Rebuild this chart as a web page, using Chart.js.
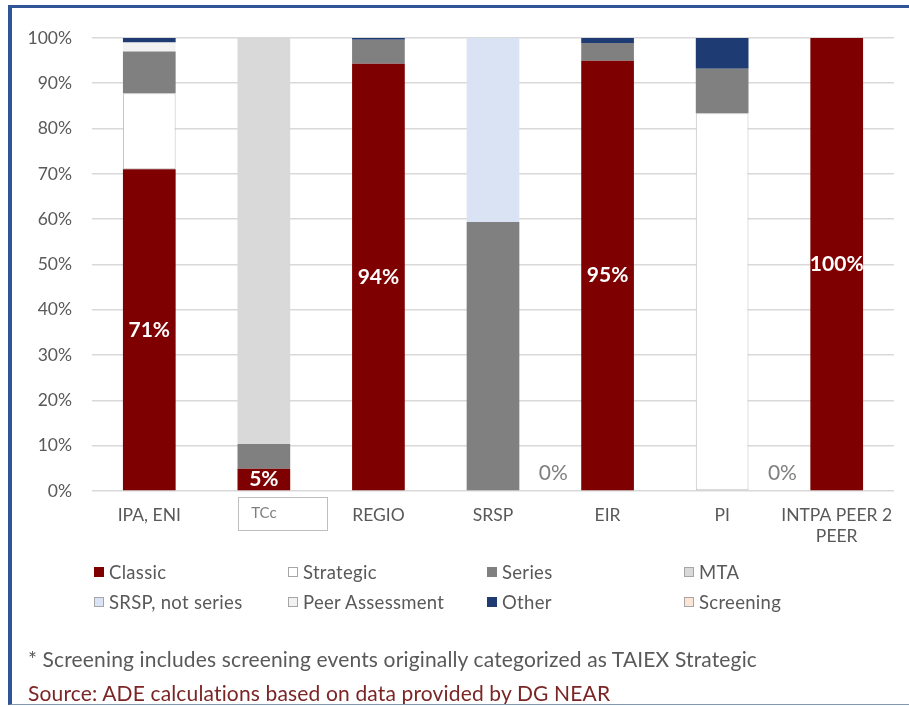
<!DOCTYPE html>
<html><head><meta charset="utf-8">
<script src="https://cdn.jsdelivr.net/npm/chart.js@4"></script>
<style>
html,body{margin:0;padding:0;background:#fff;}
#wrap{position:relative;width:909px;height:707px;overflow:hidden;font-family:Lato,'Noto Sans',sans-serif;background:#fff;}
#frame{position:absolute;left:8px;top:5px;width:940px;height:700px;border-left:4px solid #2f5597;border-top:3px solid #2f5597;border-bottom:1px solid #8497b0;box-sizing:border-box;pointer-events:none;z-index:3;}
#c{position:absolute;left:0;top:0;}
.lg{position:absolute;display:flex;align-items:center;font-size:18.5px;letter-spacing:0.3px;color:#595959;white-space:nowrap;transform:translateY(-50%);}
.lg i{display:inline-block;width:10px;height:10px;margin-right:5px;box-sizing:border-box;}
.note{position:absolute;left:28px;font-size:21px;letter-spacing:0.15px;white-space:nowrap;transform:translateY(-50%);}
</style>
</head><body>
<div id="wrap">
<canvas id="c" width="909" height="707"></canvas>
<div id="legend"></div>
<div class="note" style="top:658px;color:#595959;">* Screening includes screening events originally categorized as TAIEX Strategic</div>
<div class="note" style="top:692px;color:#7b2525;">Source: ADE calculations based on data provided by DG NEAR</div>
<div id="frame"></div>
</div>
<script>
// ---- data ----
const categories = ['IPA, ENI', 'TCc', 'REGIO', 'SRSP', 'EIR', 'PI', ['INTPA PEER 2', 'PEER']];
const yTickValues = [0, 10, 20, 30, 40, 50, 60, 70, 80, 90, 100];
const classic        = [71.0, 4.9, 94.3, 0,    95.0, 0,    100];
const strategic      = [16.8, 0,   0,    0,    0,    83.4, 0];
const series         = [9.2,  5.5, 5.3,  59.4, 3.9,  9.8,  0];
const mta            = [0,    89.6,0,    0,    0,    0,    0];
const srspNotSeries  = [0,    0,   0,    40.6, 0,    0,    0];
const peerAssessment = [2.0,  0,   0,    0,    0,    0,    0];
const other          = [1.0,  0,   0.4,  0,    1.1,  6.8,  0];
const screening      = [0,    0,   0,    0,    0,    0,    0];

const GREY_TXT = '#595959';
const FONT = 'Lato, "Noto Sans", sans-serif';

function ds(label, data, bg, border, bw) {
  return { label, data, backgroundColor: bg, borderColor: border || bg, borderWidth: bw || 0,
           borderSkipped: false, barPercentage: 1, categoryPercentage: 0.46 };
}
const datasets = [
  ds('Classic', classic, '#7f0000'),
  ds('Strategic', strategic, '#ffffff', '#bfbfbf', 1),
  ds('Series', series, '#808080'),
  ds('MTA', mta, '#d9d9d9'),
  ds('SRSP, not series', srspNotSeries, '#dae3f3'),
  ds('Peer Assessment', peerAssessment, '#f2f2f2'),
  ds('Other', other, '#1f3b73'),
  ds('Screening', screening, '#fbe5d6')
];

const labelPlugin = {
  id: 'labels',
  afterDatasetsDraw(chart) {
    const ctx = chart.ctx;
    const meta = chart.getDatasetMeta(0);
    const xs = chart.scales.x, ys = chart.scales.y;
    const step = xs.getPixelForValue(1) - xs.getPixelForValue(0);
    ctx.save();
    ctx.textAlign = 'center';
    ctx.textBaseline = 'middle';
    classic.forEach((v, i) => {
      const el = meta.data[i];
      if (v > 0) {
        ctx.font = 'bold 21px ' + FONT;
        ctx.fillStyle = '#ffffff';
        ctx.fillText(Math.round(v) + '%', el.x, (el.y + el.base) / 2);
      } else {
        ctx.font = '21px ' + FONT;
        ctx.fillStyle = '#7f7f7f';
        ctx.fillText(Math.round(v) + '%', el.x + step / 2 + 3, ys.getPixelForValue(0) - 18);
      }
    });
    // box around TCc tick label
    const tx = xs.getPixelForValue(1);
    ctx.strokeStyle = '#bfbfbf';
    ctx.lineWidth = 1;
    ctx.strokeRect(Math.round(tx - 26) + 0.5, 497.5, 89, 33);
    ctx.restore();
  }
};

const chart = new Chart(document.getElementById('c'), {
  type: 'bar',
  data: { labels: categories, datasets },
  options: {
    responsive: false,
    animation: false,
    layout: { padding: { top: 38, right: 15, left: 0, bottom: 0 } },
    plugins: { legend: { display: false }, tooltip: { enabled: false } },
    scales: {
      x: {
        stacked: true,
        grid: { display: false, drawTicks: false },
        border: { display: false },
        ticks: {
          color: (c) => c.index === 1 ? '#7f7f7f' : GREY_TXT,
          font: (c) => ({ family: FONT, size: c.index === 1 ? 15 : 17.5, lineHeight: 1.25 }),
          padding: 13, maxRotation: 0, autoSkip: false
        },
        afterFit(s) { s.height = 216; }
      },
      y: {
        stacked: true, min: 0, max: 100,
        afterBuildTicks(s) { s.ticks = yTickValues.map(v => ({ value: v })); },
        grid: { color: '#d9d9d9', lineWidth: 1.6, drawTicks: false },
        border: { display: false },
        ticks: { color: GREY_TXT, font: { family: FONT, size: 17.5 }, padding: 20,
                 callback: (v) => v + '%' },
        afterFit(s) { s.width = 92; }
      }
    }
  },
  plugins: [labelPlugin]
});

// HTML legend built from datasets
const legendX = [94, 288, 487, 684];
const legendY = [572, 602];
const lg = document.getElementById('legend');
chart.data.datasets.forEach((d, i) => {
  const div = document.createElement('div');
  div.className = 'lg';
  div.style.left = legendX[i % 4] + 'px';
  div.style.top = legendY[Math.floor(i / 4)] + 'px';
  const sq = document.createElement('i');
  sq.style.background = d.backgroundColor;
  if (['#ffffff', '#f2f2f2', '#fbe5d6', '#dae3f3', '#d9d9d9'].includes(d.backgroundColor))
    sq.style.border = '1px solid #a6a6a6';
  div.appendChild(sq);
  div.appendChild(document.createTextNode(d.label));
  lg.appendChild(div);
});
</script>
</body></html>
